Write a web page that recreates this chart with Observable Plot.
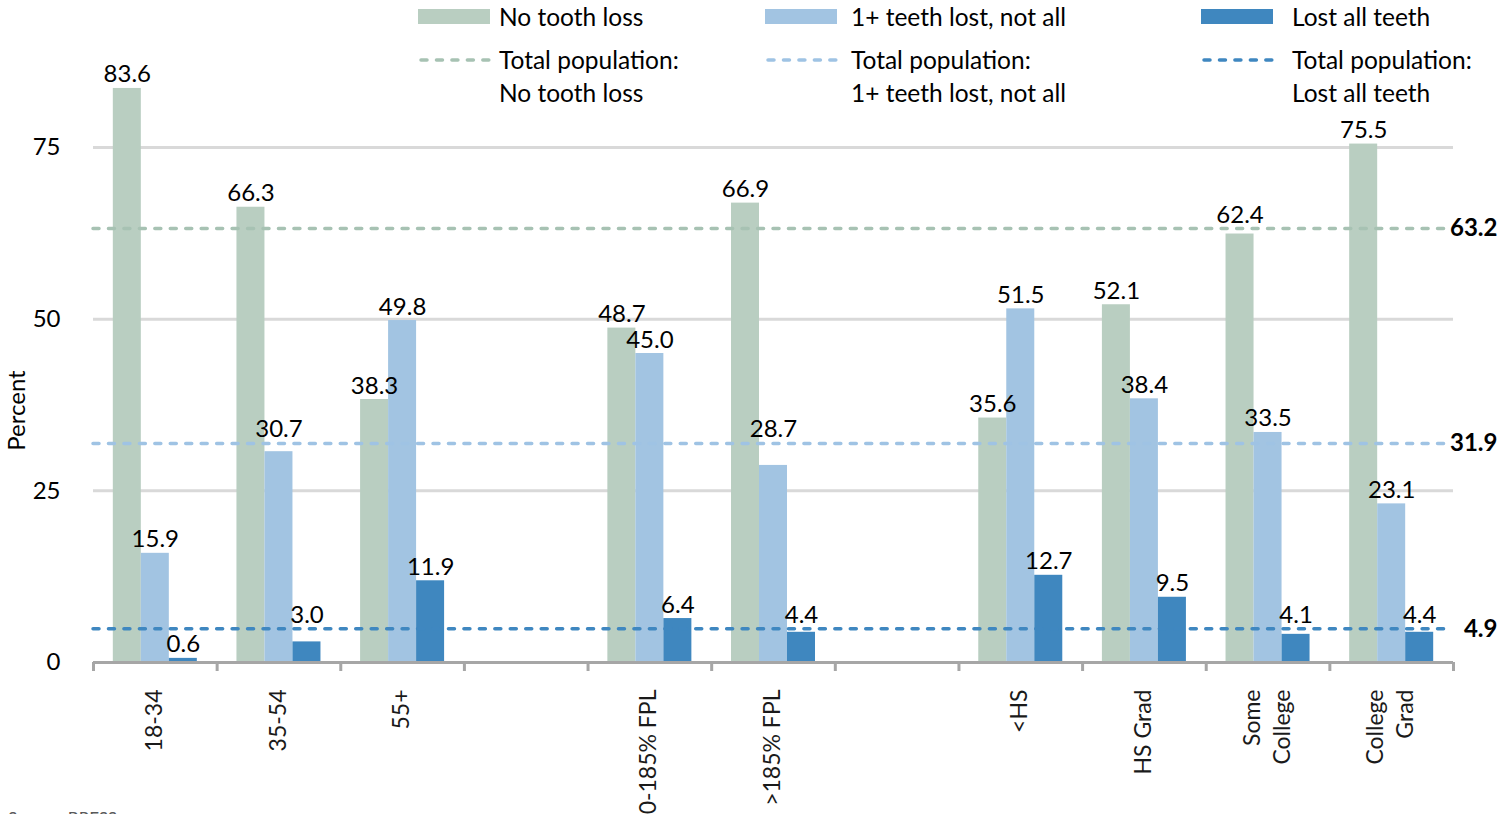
<!DOCTYPE html>
<html>
<head>
<meta charset="utf-8">
<script src="https://cdn.jsdelivr.net/npm/d3@7"></script>
<script src="https://cdn.jsdelivr.net/npm/@observablehq/plot@0.6"></script>
<style>
  html, body { margin: 0; padding: 0; background: #fff; }
  #wrap { position: relative; width: 1512px; height: 814px; overflow: hidden; font-family: Lato, "Open Sans", sans-serif; color: #000; }
  #chart { position: absolute; left: 0; top: 0; }
  .lg-swatch { position: absolute; height: 15px; width: 72px; }
  .lg-text { position: absolute; font-size: 24.5px; line-height: 33px; white-space: nowrap; }
  .lg-dash { position: absolute; width: 74px; height: 8px; }
  #source { position: absolute; left: 8px; top: 808px; font-size: 17px; color: #595959; }
</style>
</head>
<body>
<div id="wrap">
  <div id="chart"></div>
  <div id="legend"></div>
  <div id="source">Source: BRFSS</div>
</div>
<script>
// Groups along the x axis; null entries are spacer slots between age, income and education blocks
const groups = ["18-34", "35-54", "55+", null, "0-185% FPL", ">185% FPL", null, "<HS", "HS Grad", "Some\nCollege", "College\nGrad"];
const seriesNames = ["No tooth loss", "1+ teeth lost, not all", "Lost all teeth"];
const noToothLoss = [83.6, 66.3, 38.3, null, 48.7, 66.9, null, 35.6, 52.1, 62.4, 75.5];
const someTeethLost = [15.9, 30.7, 49.8, null, 45.0, 28.7, null, 51.5, 38.4, 33.5, 23.1];
const allTeethLost = [0.6, 3.0, 11.9, null, 6.4, 4.4, null, 12.7, 9.5, 4.1, 4.4];
const totalPopulation = [63.2, 31.9, 4.9];
const yTicks = [0, 25, 50, 75];

const barColors = ["#b9cec1", "#a2c4e2", "#3f87bf"];
const lineColors = ["#a7c2b3", "#9fc3e4", "#3f87c0"];

// Long-format rows built from the series arrays
const rows = [];
[noToothLoss, someTeethLost, allTeethLost].forEach((values, k) => {
  values.forEach((v, i) => {
    if (v != null) rows.push({slot: i, k, series: seriesNames[k], value: v});
  });
});

const width = 1512, height = 814;
const marginLeft = 93, marginRight = 59, marginTop = 44, marginBottom = 152;
const yMax = 90;
const fontSize = 24;
const barWidth = 0.2265;               // bar width as a fraction of one group slot
const pxPerUnit = (height - marginTop - marginBottom) / yMax;
const labelGap = 6, labelHeight = 17;  // pixel gap above a bar, digit height

// A value label that would collide with a total-population line sits above that line
rows.forEach(d => {
  const top = d.value + (labelGap + labelHeight) / pxPerUnit;
  const hit = totalPopulation.find(t => t >= d.value && t <= top);
  d.labelY = hit != null ? hit : d.value;
  d.x1 = d.slot + 0.5 + (d.k - 1.5) * barWidth;
  d.x2 = d.x1 + barWidth;
});

const groupLabels = groups.map((g, i) => ({g, i})).filter(d => d.g);

const chart = Plot.plot({
  width, height, marginLeft, marginRight, marginTop, marginBottom,
  style: {fontFamily: "Lato, 'Open Sans', sans-serif", fontSize: fontSize + "px", color: "#000", background: "#fff", overflow: "visible"},
  x: {domain: [0, groups.length], axis: null},
  y: {domain: [0, yMax], axis: null},
  marks: [
    Plot.ruleY(yTicks.filter(t => t > 0), {stroke: "#d9d9d9", strokeWidth: 3}),
    Plot.rectY(rows, {x1: "x1", x2: "x2", y1: 0, y2: "value", fill: d => barColors[d.k]}),
    Plot.ruleY(totalPopulation, {
      y: d => d, stroke: (d, i) => lineColors[i], strokeWidth: 3.5,
      strokeDasharray: "6,9.4545", strokeLinecap: "round", insetRight: 5
    }),
    Plot.text(totalPopulation, {
      x: groups.length, y: d => d, text: d => d.toFixed(1),
      textAnchor: "end", dx: 44, fontWeight: "bold", fontSize, fill: "#000"
    }),
    Plot.text(rows, {
      x: d => (d.x1 + d.x2) / 2, y: "labelY", text: d => d.value.toFixed(1),
      lineAnchor: "bottom", dy: -labelGap, fill: "#000", fontSize
    }),
    Plot.ruleY([0], {stroke: "#a6a6a6", strokeWidth: 3}),
    Plot.axisX(d3.range(groups.length + 1), {
      tickSize: 9, tickFormat: () => "", stroke: "#a6a6a6", strokeWidth: 3
    }),
    Plot.axisY(yTicks, {tickSize: 0, tickPadding: 33, label: null, fontSize, fill: "#000"}),
    Plot.text(groupLabels, {
      x: d => d.i + 0.5, y: 0, text: "g", rotate: -90,
      textAnchor: "end", lineAnchor: "middle", lineHeight: 1.3,
      dx: -3, dy: 27, fontSize: 23, fill: "#1a1a1a"
    }),
    Plot.text(["Percent"], {
      frameAnchor: "left", text: d => d, rotate: -90, textAnchor: "middle",
      dx: -76, dy: 57, fontSize, fill: "#000"
    })
  ]
});
document.getElementById("chart").appendChild(chart);

// Legend: one column per series, bar swatch on top and dashed total line below
const swatchLeft = [418, 765, 1201];
const textLeft = [499, 851, 1292];
const legend = d3.select("#legend");
seriesNames.forEach((name, k) => {
  legend.append("div").attr("class", "lg-swatch")
    .style("left", swatchLeft[k] + "px").style("top", "9px")
    .style("background", barColors[k]);
  legend.append("div").attr("class", "lg-text")
    .style("left", textLeft[k] + "px").style("top", "0px")
    .text(name);
  const svg = legend.append("svg").attr("class", "lg-dash")
    .style("left", (swatchLeft[k] + 1) + "px").style("top", "56px");
  svg.append("line")
    .attr("x1", 2).attr("x2", 72).attr("y1", 4).attr("y2", 4)
    .attr("stroke", lineColors[k]).attr("stroke-width", 3.5)
    .attr("stroke-dasharray", "6,9.4545").attr("stroke-linecap", "round");
  legend.append("div").attr("class", "lg-text")
    .style("left", textLeft[k] + "px").style("top", "43px")
    .html("Total population:<br>" + name);
});
</script>
</body>
</html>
